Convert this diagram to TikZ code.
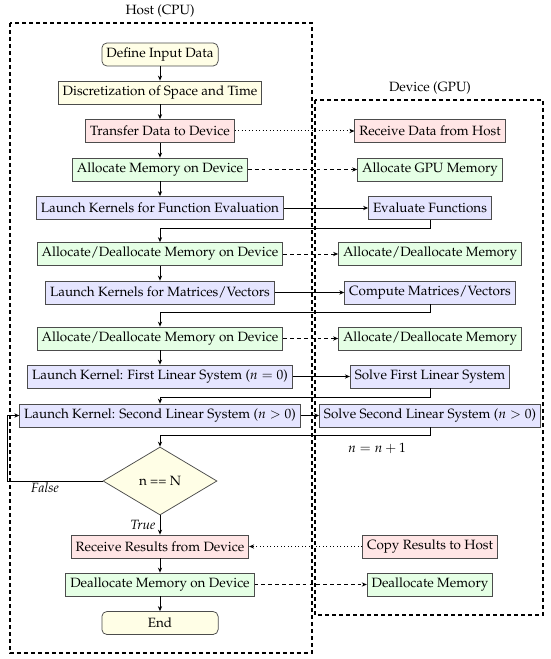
\documentclass[tikz,border=0pt]{standalone}
\usepackage[T1]{fontenc}
\usepackage{mathpazo}
\usetikzlibrary{arrows.meta,shapes.geometric}
\begin{document}
\begin{tikzpicture}[x=0.8pt,y=-0.8pt,
  fnt/.style={font=\fontsize{10.75}{13}\selectfont},
  box/.style={fnt, draw=black!70, rectangle, minimum height=18.4pt, inner xsep=3.6pt, inner ysep=0pt, line width=0.6pt},
  yel/.style={box, fill=yellow!10},
  term/.style={yel, rounded corners=4pt, minimum width=93pt},
  pnk/.style={box, fill=red!10},
  grn/.style={box, fill=green!10},
  blu/.style={box, fill=blue!10},
  dec/.style={fnt, diamond, draw=black!70, fill=yellow!10, inner sep=0pt, aspect=1.68, minimum width=91.2pt, minimum height=54.4pt, line width=0.6pt},
  lbl/.style={fnt},
  ilbl/.style={font=\fontsize{10.75}{13}\selectfont\itshape},
  flow/.style={-{Stealth[length=4pt,width=3.4pt]}, line width=0.8pt},
  dotarr/.style={flow, dotted},
  dasharr/.style={flow, dash pattern=on 3pt off 2.5pt},
  grp/.style={draw, line width=1.1pt, dash pattern=on 3.2pt off 2.4pt}
]
\useasboundingbox (0,0) rectangle (550,659);

% group frames
\draw[grp] (10,23) rectangle (312,653);
\draw[grp] (315,100) rectangle (543,615);
\node[lbl] (hostlbl) at (160,11) {Host (CPU)};
\node[lbl] (devlbl) at (430,88) {Device (GPU)};

% host column
\node[term] (n1) at (160,54.5) {Define Input Data};
\node[yel] (n2) at (160,92.5) {Discretization of Space and Time};
\node[pnk] (n3) at (160,131) {Transfer Data to Device};
\node[grn] (n4) at (160,169.5) {Allocate Memory on Device};
\node[blu] (n5) at (160,208) {Launch Kernels for Function Evaluation};
\node[grn] (n6) at (160,254) {Allocate/Deallocate Memory on Device};
\node[blu] (n7) at (160,292.5) {Launch Kernels for Matrices/Vectors};
\node[grn] (n8) at (160,338.5) {Allocate/Deallocate Memory on Device};
\node[blu] (n9) at (160,376.5) {Launch Kernel: First Linear System ($n=0$)};
\node[blu] (n10) at (160,415.5) {Launch Kernel: Second Linear System ($n>0$)};
\node[dec] (dec) at (160,481) {n == N};
\node[pnk] (n13) at (160,546.5) {Receive Results from Device};
\node[grn] (n14) at (160,584.5) {Deallocate Memory on Device};
\node[term] (n15) at (160,623) {End};

% device column
\node[pnk] (a) at (430,131) {Receive Data from Host};
\node[grn] (b) at (430,169.5) {Allocate GPU Memory};
\node[blu] (c) at (430,208) {Evaluate Functions};
\node[grn] (d) at (430,254) {Allocate/Deallocate Memory};
\node[blu] (e) at (430,292.5) {Compute Matrices/Vectors};
\node[grn] (f) at (430,338.5) {Allocate/Deallocate Memory};
\node[blu] (g) at (430,376.5) {Solve First Linear System};
\node[blu] (h) at (430,415.5) {Solve Second Linear System ($n>0$)};
\node[lbl] (inc) at (377,448) {$n=n+1$};
\node[pnk] (i) at (430,546.5) {Copy Results to Host};
\node[grn] (j) at (430,584.5) {Deallocate Memory};

\node[ilbl] (falselbl) at (45,488) {False};
\node[ilbl] (truelbl) at (143,525) {True};

% host vertical flow
\draw[flow] (n1) -- (n2);
\draw[flow] (n2) -- (n3);
\draw[flow] (n3) -- (n4);
\draw[flow] (n4) -- (n5);
\draw[flow] (n6) -- (n7);
\draw[flow] (n8) -- (n9);
\draw[flow] (dec) -- (n13);
\draw[flow] (n13) -- (n14);
\draw[flow] (n14) -- (n15);

% host to device
\draw[dotarr] (n3) -- (a);
\draw[dasharr] (n4) -- (b);
\draw[flow] (n5) -- (c);
\draw[dasharr] (n6) -- (d);
\draw[flow] (n7) -- (e);
\draw[dasharr] (n8) -- (f);
\draw[flow] (n9) -- (g);
\draw[flow] (n10) -- (h);
\draw[dasharr] (n14) -- (j);
\draw[dotarr] (i) -- (n13);

% device back to host
\draw[flow] (c.south) -- (c.south |- 0,228) -| (n6.north);
\draw[flow] (e.south) -- (e.south |- 0,312) -| (n8.north);
\draw[flow] (g.south) -- (g.south |- 0,397) -| (n10.north);
\draw[flow] (h.south) -- (h.south |- 0,435) -| (dec.north);

% loop
\coordinate (loopx) at (7,481);
\draw[flow] (dec.west) -- (loopx) |- (n10.west);
\end{tikzpicture}
\end{document}
